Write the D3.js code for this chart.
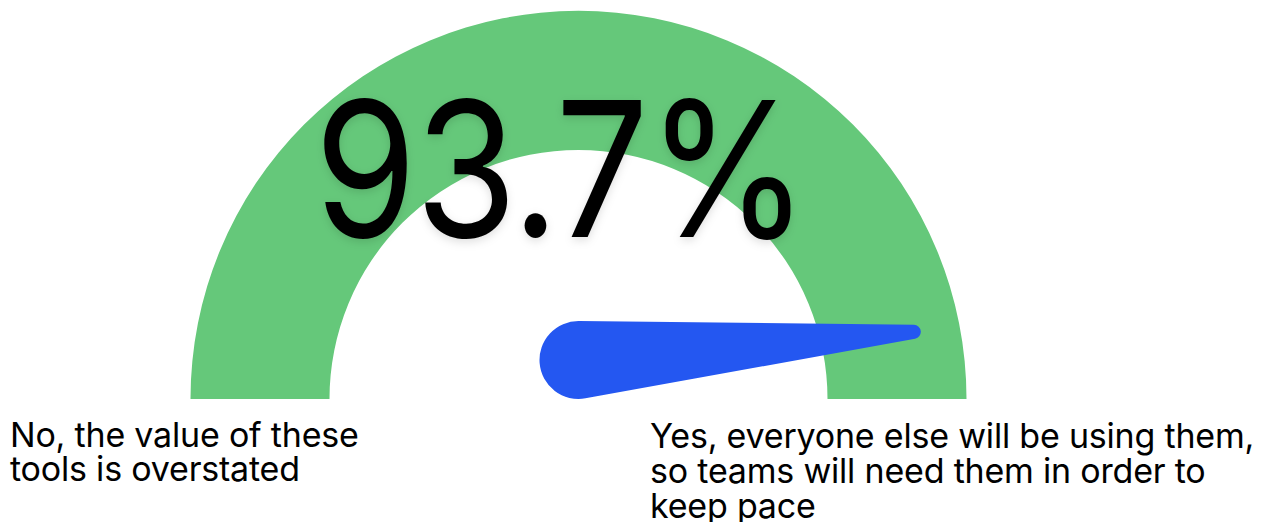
<!DOCTYPE html>
<html><head><meta charset="utf-8">
<script src="https://cdn.jsdelivr.net/npm/d3@7"></script>
<style>html,body{margin:0;padding:0;background:#fff;}svg{display:block;}</style>
</head><body>
<svg id="chart" width="1274" height="522"></svg>
<script>
// ---- data ----
const gaugeValue = 0.937;          // share answering "Yes"
const gaugeDomain = [0, 1];
const valueLabel = "93.7%";
const leftLabelLines = ["No, the value of these", "tools is overstated"];
const rightLabelLines = ["Yes, everyone else will be using them,", "so teams will need them in order to", "keep pace"];

// ---- layout / style ----
const cx = 578.5, cy = 399;
const rOuter = 388, rInner = 249;
const green = "#65c87a", blue = "#2457f1";
const svg = d3.select("#chart");

const defs = svg.append("defs");
const f = defs.append("filter").attr("id","sh").attr("x","-10%").attr("y","-20%").attr("width","120%").attr("height","140%");
f.append("feDropShadow").attr("dx",0).attr("dy",3).attr("stdDeviation",5).attr("flood-color","#000").attr("flood-opacity",0.13);

// angle scale: value -> angle (radians, d3.arc convention: 0 = up, clockwise)
const angle = d3.scaleLinear().domain(gaugeDomain).range([-Math.PI/2, Math.PI/2]);

const g = svg.append("g").attr("transform", `translate(${cx},${cy})`);
g.append("path")
  .attr("d", d3.arc().innerRadius(rInner).outerRadius(rOuter)
    .startAngle(angle(gaugeDomain[0])).endAngle(angle(gaugeDomain[1]))())
  .attr("fill", green);

// big value text
svg.append("g").attr("transform","translate(561,237) scale(0.875,1)")
  .append("text")
  .attr("x", 0).attr("y", 0)
  .attr("text-anchor","middle")
  .attr("font-family","Inter, 'Noto Sans', sans-serif")
  .attr("font-size", 188)
  .attr("letter-spacing", -1.5)
  .attr("fill","#000")
  .attr("filter","url(#sh)")
  .text(valueLabel);

// needle
const a = angle(gaugeValue);           // clockwise from up
const r1 = 39, r2 = 7, L = 342;
const c1 = [0, -r1];                   // ball resting on the baseline
const c2 = [L*Math.sin(a), -L*Math.cos(a)];
const dx = c2[0]-c1[0], dy = c2[1]-c1[1];
const D = Math.hypot(dx, dy);
const phi = Math.atan2(dy, dx);
const alpha = Math.acos((r1 - r2)/D);
const pt = (c, r, t) => [c[0] + r*Math.cos(t), c[1] + r*Math.sin(t)];
const p1a = pt(c1, r1, phi+alpha), p2b = pt(c2, r2, phi-alpha);
const p1b = pt(c1, r1, phi-alpha);
const needle = d3.path();
needle.moveTo(...p1b);
needle.lineTo(...p2b);
needle.arc(c2[0], c2[1], r2, phi-alpha, phi+alpha, false);
needle.lineTo(...p1a);
needle.arc(c1[0], c1[1], r1, phi+alpha, phi-alpha + 2*Math.PI, false);
needle.closePath();
g.append("path").attr("d", needle.toString()).attr("fill", blue);

// labels
function label(lines, x, y0, lh){
  const t = svg.append("text")
    .attr("font-family","Inter, 'Noto Sans', sans-serif")
    .attr("font-size", 34).attr("fill","#000").attr("letter-spacing",-0.2);
  lines.forEach((s,i)=> t.append("tspan").attr("x",x).attr("y",y0+i*lh).text(s));
}
label(leftLabelLines, 10, 447, 34);
label(rightLabelLines, 650, 448, 35);
</script>
</body></html>
